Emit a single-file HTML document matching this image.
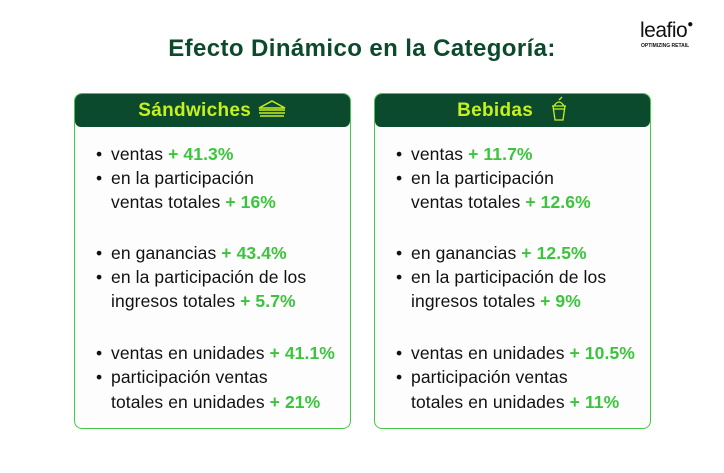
<!DOCTYPE html><html><head><meta charset="utf-8"><style>
body{margin:0;width:724px;height:473px;background:#fff;font-family:"Liberation Sans",sans-serif;position:relative;overflow:hidden}
.t{position:absolute;left:0;width:724px;top:35px;text-align:center;font-size:24px;font-weight:bold;color:#0b4a2c;letter-spacing:0.4px}
.box{position:absolute;top:93px;width:275px;height:334px;border:1.5px solid #47c847;border-radius:8px;background:#fcfdfc}
.hd{height:33px;background:#0b4a2c;border-radius:7px 7px 6px 6px;color:#c6f01e;font-weight:bold;font-size:19px;letter-spacing:0.3px;text-align:center;line-height:33px}
.l{position:absolute;left:36px;font-size:17.5px;color:#111;white-space:nowrap;letter-spacing:0.1px}
.b{position:absolute;left:-15px}
.g{color:#3dc43d;font-weight:bold}
</style></head><body>
<div class="t">Efecto Dinámico en la Categoría:</div>
<div style="position:absolute;left:640px;top:19px;font-size:21px;color:#111;letter-spacing:-0.5px">leafio<span style="font-size:10px;vertical-align:top">●</span></div>
<div style="position:absolute;left:641px;top:43px;font-size:5px;font-weight:bold;color:#111">OPTIMIZING RETAIL</div>

<div class="box" style="left:74px">
<div class="hd">Sándwiches <svg width="30" height="20" viewBox="0 0 30 20" style="vertical-align:-3px"><path d="M2 9 L15 2 L28 9 Z M2 11h26 M2 14h26 M3 17h24" stroke="#c6f01e" stroke-width="1.5" fill="none"/></svg></div>
<div class="l" style="top:50px"><span class="b">•</span>ventas <span class="g">+ 41.3%</span></div>
<div class="l" style="top:74px"><span class="b">•</span>en la participación</div>
<div class="l" style="top:98px">ventas totales <span class="g">+ 16%</span></div>
<div class="l" style="top:149px"><span class="b">•</span>en ganancias <span class="g">+ 43.4%</span></div>
<div class="l" style="top:173px"><span class="b">•</span>en la participación de los</div>
<div class="l" style="top:197px">ingresos totales <span class="g">+ 5.7%</span></div>
<div class="l" style="top:249px"><span class="b">•</span>ventas en unidades <span class="g">+ 41.1%</span></div>
<div class="l" style="top:273px"><span class="b">•</span>participación ventas</div>
<div class="l" style="top:298px">totales en unidades <span class="g">+ 21%</span></div>
</div>

<div class="box" style="left:374px">
<div class="hd">Bebidas &nbsp; <svg width="18" height="26" viewBox="0 0 18 26" style="vertical-align:-6px"><path d="M2 10h14 M3 10l2 14h8l2-14 M4 10q5-8 10 0 M9 4l3-3 M4 13h10" stroke="#c6f01e" stroke-width="1.3" fill="none"/></svg></div>
<div class="l" style="top:50px"><span class="b">•</span>ventas <span class="g">+ 11.7%</span></div>
<div class="l" style="top:74px"><span class="b">•</span>en la participación</div>
<div class="l" style="top:98px">ventas totales <span class="g">+ 12.6%</span></div>
<div class="l" style="top:149px"><span class="b">•</span>en ganancias <span class="g">+ 12.5%</span></div>
<div class="l" style="top:173px"><span class="b">•</span>en la participación de los</div>
<div class="l" style="top:197px">ingresos totales <span class="g">+ 9%</span></div>
<div class="l" style="top:249px"><span class="b">•</span>ventas en unidades <span class="g">+ 10.5%</span></div>
<div class="l" style="top:273px"><span class="b">•</span>participación ventas</div>
<div class="l" style="top:298px">totales en unidades <span class="g">+ 11%</span></div>
</div>
</body></html>
